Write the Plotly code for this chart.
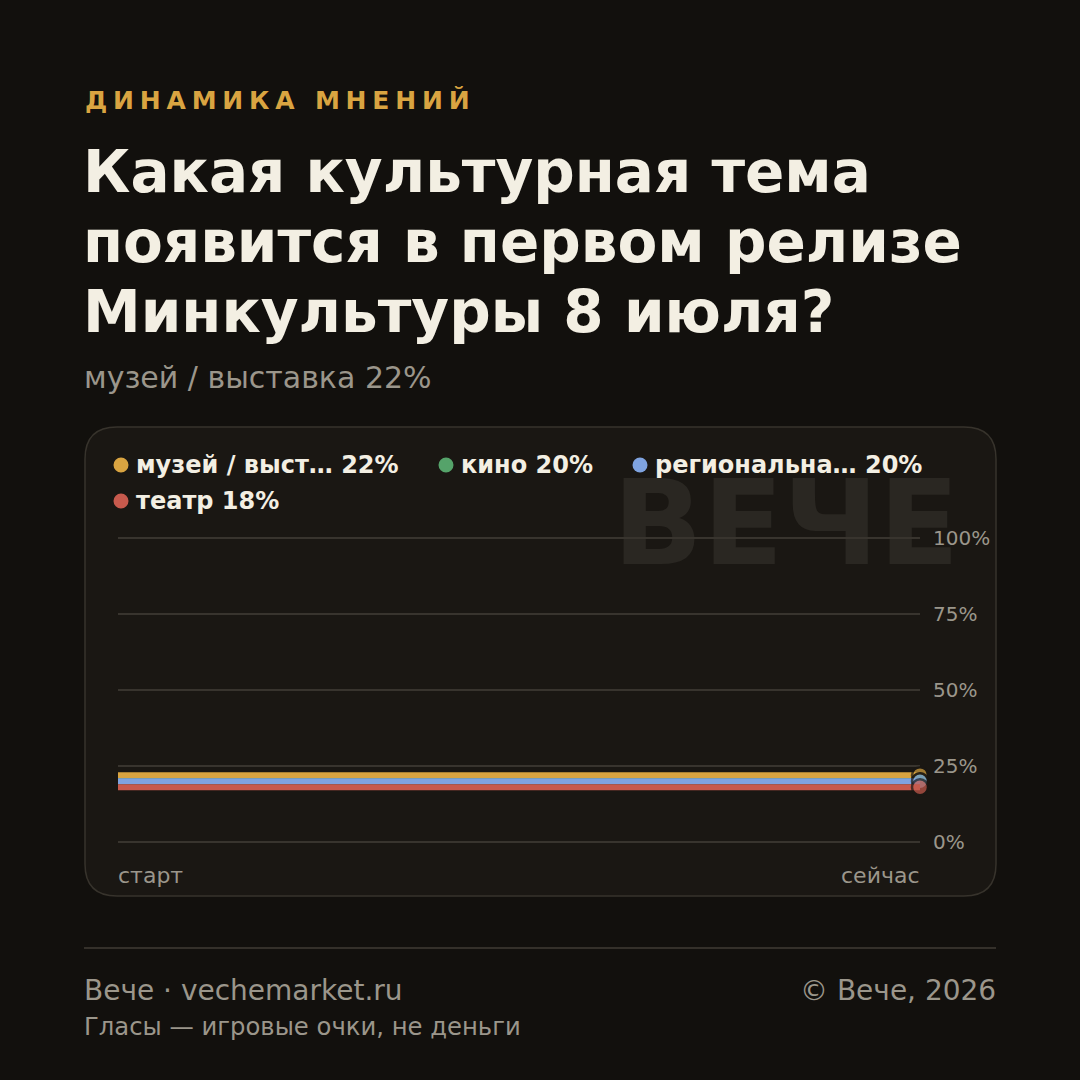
import plotly.graph_objects as go

# ---------------- data ----------------
x_points = ["старт", "сейчас"]
x_pos = [0, 1]
legend_labels = ["музей / выст…", "кино", "региональна…", "театр"]
series_values = {
    "музей / выставка": [22, 22],
    "кино": [20, 20],
    "региональная": [20, 20],
    "театр": [18, 18],
}
current_pct = [22, 20, 20, 18]
colors = ["#d9a441", "#55a36a", "#7fa3e0", "#c75a4d"]
y_ticks = [0, 25, 50, 75, 100]
y_tick_labels = ["0%", "25%", "50%", "75%", "100%"]

kicker = "ДИНАМИКА МНЕНИЙ"
title_lines = ["Какая культурная тема", "появится в первом релизе", "Минкультуры 8 июля?"]
subtitle = "музей / выставка 22%"
footer_left = "Вече · vechemarket.ru"
footer_right = "© Вече, 2026"
footer_note = "Гласы — игровые очки, не деньги"
watermark = "ВЕЧЕ"

# ---------------- layout helpers ----------------
W = H = 1080
Y_MAX = 101
L, R, B = 118, 920, 842
PX_PER_PCT = (842 - 538) / 100
T = B - PX_PER_PCT * Y_MAX
FONT = "DejaVu Sans"
BG = "#12100d"
CARD = "#1a1713"
CARD_BORDER = "#37332c"
GRID = "#38342e"
MUTED = "#9b968b"
CREAM = "#f3efe3"


def px(x):
    return (x - L) / (R - L)


def py(y):
    return (B - y) / (B - T)


fig = go.Figure()

names = list(series_values.keys())
for i, name in enumerate(names):
    vals = series_values[name]
    fig.add_trace(go.Scatter(
        x=x_pos, y=vals, mode="lines+markers", name=name,
        line=dict(color=colors[i], width=6),
        marker=dict(size=[0, 16], color=colors[i], line=dict(color=CARD, width=2.5)),
        cliponaxis=False, showlegend=False, hoverinfo="skip",
    ))

shapes = []
# card with rounded corners
cx0, cx1, cy0, cy1, rad = 85, 996, 427, 896, 32


def P(x, y):
    return f"{px(x):.6f},{py(y):.6f}"


path = (f"M {P(cx0 + rad, cy0)} L {P(cx1 - rad, cy0)} Q {P(cx1, cy0)} {P(cx1, cy0 + rad)} "
        f"L {P(cx1, cy1 - rad)} Q {P(cx1, cy1)} {P(cx1 - rad, cy1)} "
        f"L {P(cx0 + rad, cy1)} Q {P(cx0, cy1)} {P(cx0, cy1 - rad)} "
        f"L {P(cx0, cy0 + rad)} Q {P(cx0, cy0)} {P(cx0 + rad, cy0)} Z")
shapes.append(dict(type="path", xref="paper", yref="paper", path=path,
                   fillcolor=CARD, line=dict(color=CARD_BORDER, width=1.5), layer="below"))
# watermark
shapes.append(dict(type="rect", xref="paper", yref="paper",
                   x0=px(596), x1=px(976), y0=py(567), y1=py(462),
                   line=dict(width=0), fillcolor="rgba(0,0,0,0)", layer="below",
                   label=dict(text=watermark, textposition="middle center",
                              font=dict(family=FONT, size=118, color="#2a2722", weight="bold"))))
# footer separator
shapes.append(dict(type="line", xref="paper", yref="paper",
                   x0=px(84), x1=px(996), y0=py(948), y1=py(948),
                   line=dict(color="#34302a", width=2)))

# legend dots
legend_pos = [(121, 465), (446, 465), (640, 465), (121, 501)]
for i, (lx, ly) in enumerate(legend_pos):
    shapes.append(dict(type="circle", xref="paper", yref="paper",
                       xsizemode="pixel", ysizemode="pixel",
                       xanchor=px(lx), yanchor=py(ly),
                       x0=-7.5, x1=7.5, y0=-7.5, y1=7.5,
                       fillcolor=colors[i], line=dict(width=0)))

ann = []


def text(x, y, s, size, color, bold=False, xanchor="left", yanchor="middle"):
    ann.append(dict(xref="paper", yref="paper", x=px(x), y=py(y), text=s,
                    showarrow=False, xanchor=xanchor, yanchor=yanchor,
                    font=dict(family=FONT, size=size, color=color,
                              weight="bold" if bold else "normal"),
                    borderpad=0))


text(84, 100, f'<span style="letter-spacing:5.8px">{kicker}</span>', 25, "#d9a441", bold=True)
for k, line in enumerate(title_lines):
    text(82, 172 + 70 * k, line, 58, CREAM, bold=True)
text(83, 377, subtitle, 30, MUTED)

for i, (lx, ly) in enumerate(legend_pos):
    text(lx + 14, ly, f"{legend_labels[i]} {current_pct[i]}%", 24, CREAM, bold=True)

text(83, 991, footer_left, 28, MUTED)
text(997, 991, footer_right, 28, MUTED, xanchor="right")
text(83, 1027, footer_note, 24.3, MUTED)

# x labels
ann.append(dict(xref="x", yref="paper", x=x_pos[0], y=py(876), text=x_points[0], showarrow=False,
                xanchor="left", yanchor="middle", xshift=-2,
                font=dict(family=FONT, size=22, color=MUTED)))
ann.append(dict(xref="x", yref="paper", x=x_pos[-1], y=py(876), text=x_points[-1], showarrow=False,
                xanchor="right", yanchor="middle", xshift=2,
                font=dict(family=FONT, size=22, color=MUTED)))

fig.update_layout(
    width=W, height=H,
    margin=dict(l=L, r=W - R, t=T, b=H - B, pad=0),
    paper_bgcolor=BG, plot_bgcolor="rgba(0,0,0,0)",
    shapes=shapes, annotations=ann, showlegend=False, hovermode=False,
    font=dict(family=FONT, color=MUTED),
    xaxis=dict(range=[0, 1], showgrid=False, zeroline=False, showticklabels=False,
               showline=False, fixedrange=True),
    yaxis=dict(range=[0, Y_MAX], side="right", tickvals=y_ticks, ticktext=y_tick_labels,
               showgrid=True, gridcolor=GRID, gridwidth=2, zeroline=True,
               zerolinecolor=GRID, zerolinewidth=2, showline=False, ticks="",
               ticklabelstandoff=12, tickfont=dict(family=FONT, size=20, color=MUTED),
               fixedrange=True),
)

fig.write_html("out.html", config={"displayModeBar": False, "staticPlot": True})
